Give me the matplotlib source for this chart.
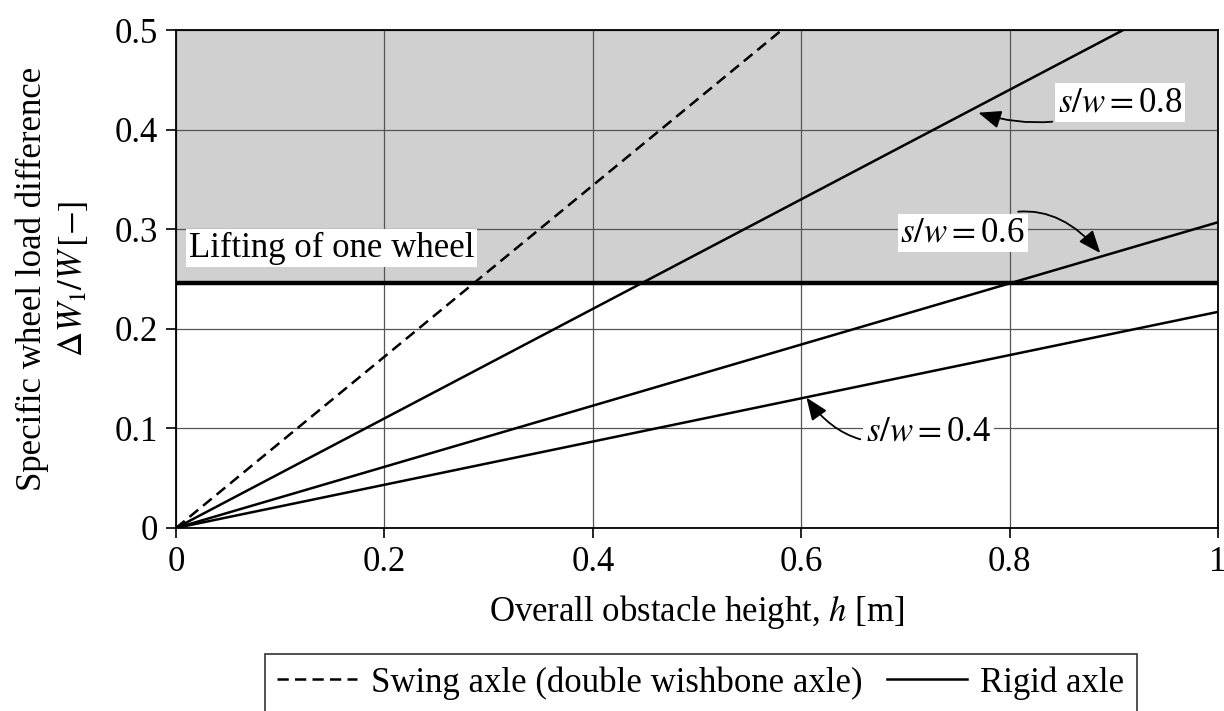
import numpy as np
import matplotlib
matplotlib.use("Agg")
import matplotlib.pyplot as plt

plt.rcParams["font.family"] = ["Liberation Serif", "DejaVu Serif"]
plt.rcParams["mathtext.fontset"] = "stix"

# data
h = np.array([0.0, 1.0])
swing_slope = 0.86
rigid_ratios = ["0.8", "0.6", "0.4"]
rigid_slopes = [0.55, 0.307, 0.217]
lift_limit = 0.246

x_ticks = [0, 0.2, 0.4, 0.6, 0.8, 1.0]
x_ticklabels = ["0", "0.2", "0.4", "0.6", "0.8", "1"]
y_ticks = [0, 0.1, 0.2, 0.3, 0.4, 0.5]
y_ticklabels = ["0", "0.1", "0.2", "0.3", "0.4", "0.5"]

fs = 25

fig = plt.figure(figsize=(12.24, 7.11), dpi=100)
ax = fig.add_axes([0.1438, 0.2574, 0.8513, 0.7004])

ax.axhspan(lift_limit, 0.5, color="#d0d0d0", zorder=0)
ax.grid(True, color="#555555", linewidth=0.9, zorder=1)
ax.set_axisbelow(True)

ax.axhline(lift_limit, color="black", linewidth=3.2, zorder=3)

swing_line, = ax.plot(h, swing_slope * h, color="black", linewidth=1.8,
                      linestyle=(0, (4.5, 2.5)), zorder=4)
rigid_lines = []
for s in rigid_slopes:
    ln, = ax.plot(h, s * h, color="black", linewidth=1.8, zorder=4)
    rigid_lines.append(ln)

ax.set_xlim(0, 1)
ax.set_ylim(0, 0.5)
ax.set_xticks(x_ticks)
ax.set_xticklabels(x_ticklabels)
ax.set_yticks(y_ticks)
ax.set_yticklabels(y_ticklabels)
ax.tick_params(labelsize=fs, direction="out", length=7, width=1.2, pad=6)
for sp in ax.spines.values():
    sp.set_linewidth(1.3)

ax.set_xlabel(r"Overall obstacle height, $h$ [m]", fontsize=fs, labelpad=10)
ax.set_ylabel("Specific wheel load difference\n" + r"$\Delta W_1/W\,[-]$",
              fontsize=fs, labelpad=18, linespacing=1.25)

box = dict(facecolor="white", edgecolor="none", pad=2)
ax.text(0.012, 0.281, "Lifting of one wheel", fontsize=fs, va="center",
        ha="left", bbox=box, zorder=5)

arrow = dict(arrowstyle="-|>,head_length=0.55,head_width=0.22", color="black",
             linewidth=1.3, shrinkA=2, shrinkB=0)
ax.annotate(r"$s/w = $" + rigid_ratios[0], xy=(0.77, 0.417),
            xytext=(0.906, 0.427), fontsize=fs, ha="center", va="center",
            bbox=box, zorder=6,
            arrowprops=dict(arrow, connectionstyle="arc3,rad=-0.2"))
ax.annotate(r"$s/w = $" + rigid_ratios[1], xy=(0.887, 0.276),
            xytext=(0.755, 0.296), fontsize=fs, ha="center", va="center",
            bbox=box, zorder=6,
            arrowprops=dict(arrow, connectionstyle="arc3,rad=-0.45",
                            shrinkA=10))
ax.annotate(r"$s/w = $" + rigid_ratios[2], xy=(0.605, 0.131),
            xytext=(0.722, 0.096), fontsize=fs, ha="center", va="center",
            bbox=box, zorder=6,
            arrowprops=dict(arrow, connectionstyle="arc3,rad=-0.4"))

leg = fig.legend([swing_line, rigid_lines[0]],
                 ["Swing axle (double wishbone axle)", "Rigid axle"],
                 loc="upper left", bbox_to_anchor=(265 / 1224, 1 - 654 / 711),
                 ncol=2, fontsize=fs, frameon=True, fancybox=False,
                 edgecolor="black", handlelength=2.3, columnspacing=0.7,
                 borderaxespad=0, borderpad=0.35, handletextpad=0.4)
leg.get_frame().set_linewidth(1.2)

fig.savefig("out.png", dpi=100)
